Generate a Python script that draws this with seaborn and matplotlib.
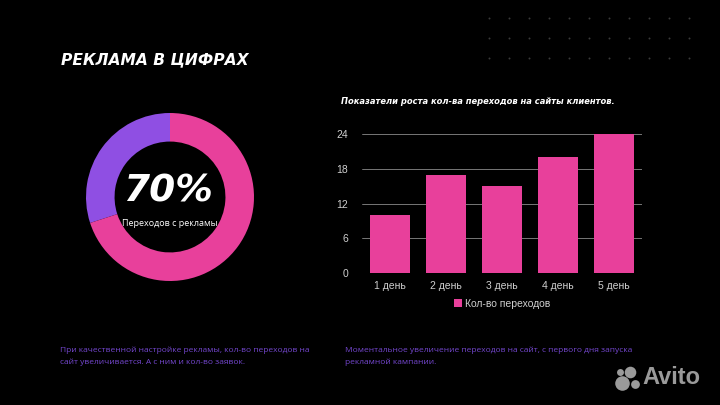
import matplotlib
matplotlib.use("Agg")
import matplotlib.pyplot as plt
import seaborn as sns
import pandas as pd
import numpy as np

# ---- data ----
days = ["1 день", "2 день", "3 день", "4 день", "5 день"]
clicks = [10, 17, 15, 20, 24]
series_name = "Кол-во переходов"
yticks = [0, 6, 12, 18, 24]
donut_labels = ["Другое", "Переходы с рекламы"]
donut_values = [30, 70]

title_main = "РЕКЛАМА В ЦИФРАХ"
title_bar = "Показатели роста кол-ва переходов на сайты клиентов."
donut_big = "70%"
donut_small = "Переходов с рекламы"
note_left = "При качественной настройке рекламы, кол-во переходов на\nсайт увеличивается. А с ним и кол-во заявок."
note_right = "Моментальное увеличение переходов на сайт, с первого дня запуска\nрекламной кампании."

PINK = "#e8409b"
PURPLE = "#8f4fe3"
NOTE = "#7447cf"
W, H = 720, 405

sns.set_theme(style="dark")
plt.rcParams["font.family"] = ["Liberation Sans", "DejaVu Sans"]

fig = plt.figure(figsize=(7.2, 4.05), dpi=100, facecolor="black")

def px(x, y):
    return x / W, 1 - y / H

# decorative dot grid (top right)
dot_ax = fig.add_axes([0, 0, 1, 1], facecolor="none")
dot_ax.set_xlim(0, W); dot_ax.set_ylim(H, 0); dot_ax.axis("off")
gx, gy = np.meshgrid(np.arange(489, 700, 20), [18, 38, 58])
dot_ax.scatter(gx.ravel(), gy.ravel(), s=2, color="#3a3a3a", linewidths=0)

# ---- titles ----
fig.text(*px(61, 60), title_main, color="white", fontsize=11.2, fontweight="bold",
         fontstyle="italic", family=["DejaVu Sans"], va="center", ha="left")
fig.text(*px(341, 101), title_bar, color="white", fontsize=6, fontweight="bold",
         fontstyle="italic", family=["DejaVu Sans"], va="center", ha="left")

# ---- donut ----
cx, cy, r = 170, 197, 84
pie_ax = fig.add_axes([(cx - r) / W, 1 - (cy + r) / H, 2 * r / W, 2 * r / H])
pie_ax.pie(donut_values, colors=[PURPLE, PINK], startangle=90, counterclock=True,
           wedgeprops=dict(width=0.34, edgecolor="none"))
pie_ax.set_aspect("auto")
pie_ax.set_xlim(-1, 1); pie_ax.set_ylim(-1, 1)
pie_ax.set_facecolor("none")
fig.text(*px(cx - 2, 192), donut_big, color="white", fontsize=27, fontweight="bold",
         fontstyle="italic", family=["DejaVu Sans"], ha="center", va="center")
fig.text(*px(cx, 223), donut_small, color="white", fontsize=6.5, ha="center", va="center",
         family=["Open Sans", "DejaVu Sans"])

# ---- bar chart ----
left, right, top, bottom = 362, 642, 134, 273
bar_ax = fig.add_axes([left / W, 1 - bottom / H, (right - left) / W, (bottom - top) / H])
df = pd.DataFrame({"day": days, "value": clicks})
sns.barplot(data=df, x="day", y="value", color=PINK, saturation=1, width=0.7,
            ax=bar_ax, label=series_name, zorder=3, edgecolor="none", linewidth=0)
bar_ax.set_facecolor("black")
bar_ax.set_ylim(0, 24)
bar_ax.set_yticks(yticks)
bar_ax.set_xlabel(""); bar_ax.set_ylabel("")
bar_ax.grid(axis="y", color="#8a8a8a", linewidth=0.6, zorder=0)
bar_ax.grid(axis="x", visible=False)
for s in bar_ax.spines.values():
    s.set_visible(False)
bar_ax.tick_params(axis="both", colors="#cfcfcf", labelsize=7.5, length=0, pad=6)
bar_ax.tick_params(axis="y", pad=10)
leg = bar_ax.legend(loc="upper center", bbox_to_anchor=(0.5, -0.12), frameon=False,
                    fontsize=7.5, handlelength=0.8, handleheight=0.8, handletextpad=0.3,
                    labelcolor="#cfcfcf")

# ---- notes ----
fig.text(*px(60, 356), note_left, color=NOTE, fontsize=6, ha="left", va="center",
         family=["Open Sans", "DejaVu Sans"], linespacing=1.75)
fig.text(*px(345, 356), note_right, color=NOTE, fontsize=6, ha="left", va="center",
         family=["Open Sans", "DejaVu Sans"], linespacing=1.75)

# ---- Avito logo ----
for (x, y, s) in [(622, 383, 110), (630, 372, 70), (620, 372, 25), (635, 384, 40)]:
    dot_ax.scatter([x], [y], s=s, color="#9a9a9a", linewidths=0)
fig.text(*px(642, 378), "Avito", color="#9a9a9a", fontsize=17, fontweight="bold",
         family=["Liberation Sans"], ha="left", va="center")

fig.savefig("out.png", dpi=100, facecolor="black")
